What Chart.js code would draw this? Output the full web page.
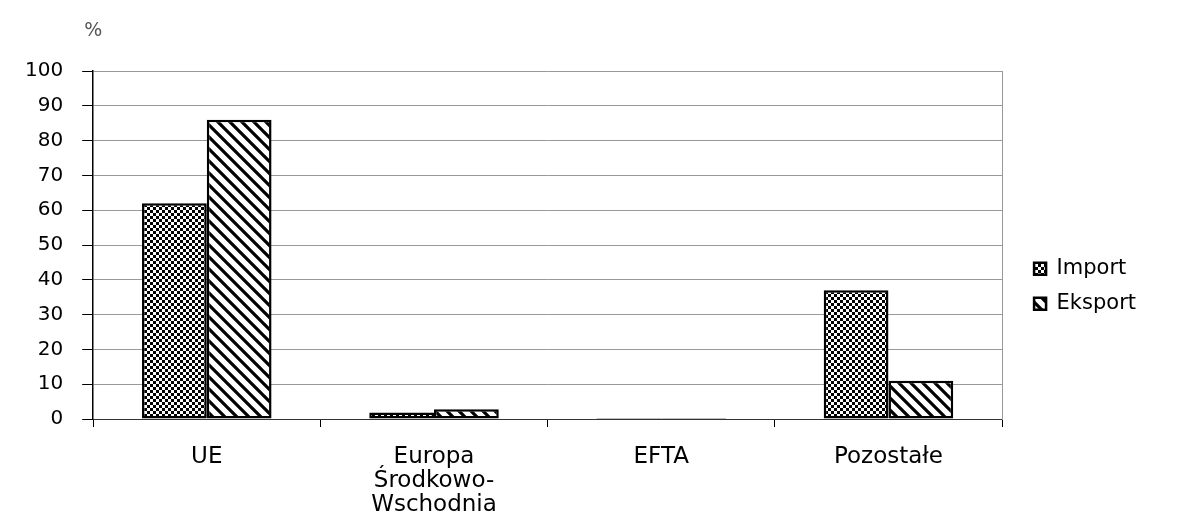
<!DOCTYPE html>
<html>
<head>
<meta charset="utf-8">
<script src="https://cdn.jsdelivr.net/npm/chart.js@4"></script>
<style>
  html, body { margin: 0; padding: 0; background: #fff; }
  #wrap { width: 1179px; height: 521px; position: relative; }
</style>
</head>
<body>
<div id="wrap"><canvas id="myChart"></canvas></div>
<script>
// datos
const categorias = ['UE', ['Europa', 'Środkowo-', 'Wschodnia'], 'EFTA', 'Pozostałe'];
const importe = [62, 1.9, 0.3, 37];
const eksport = [86, 2.8, 0.3, 11];
const ticksY = [0, 10, 20, 30, 40, 50, 60, 70, 80, 90, 100];

// patron de cuadritos (Import)
const patronCuadros = () => {
  const c = document.createElement('canvas');
  c.width = 6; c.height = 6;
  const ctx = c.getContext('2d');
  ctx.fillStyle = '#fff';
  ctx.fillRect(0, 0, 6, 6);
  ctx.fillStyle = '#000';
  ctx.fillRect(0, 0, 3, 3);
  ctx.fillRect(3, 3, 3, 3);
  return ctx.createPattern(c, 'repeat');
}

// patron de rayas diagonales (Eksport)
const patronRayas = () => {
  const s = 12;
  const c = document.createElement('canvas');
  c.width = s; c.height = s;
  const ctx = c.getContext('2d');
  ctx.fillStyle = '#fff';
  ctx.fillRect(0, 0, s, s);
  ctx.strokeStyle = '#000';
  ctx.lineWidth = 3.2;
  ctx.beginPath();
  ctx.moveTo(-s, 0); ctx.lineTo(s, 2 * s);
  ctx.moveTo(0, 0); ctx.lineTo(s, s);
  ctx.moveTo(0, -s); ctx.lineTo(2 * s, s);
  ctx.stroke();
  return ctx.createPattern(c, 'repeat');
}

// simbolo % arriba del eje
const extras = {
  id: 'extras',
  afterDraw(chart) {
    const ctx = chart.ctx;
    const a = chart.chartArea;
    ctx.save();
    ctx.fillStyle = '#555';
    ctx.font = '19px "DejaVu Sans", sans-serif';
    ctx.textAlign = 'center';
    ctx.textBaseline = 'middle';
    ctx.fillText('%', a.left, 31);
    ctx.restore();
  }
}

Chart.defaults.font.family = '"DejaVu Sans", sans-serif';
Chart.defaults.color = '#000';

new Chart(document.getElementById('myChart'), {
  type: 'bar',
  data: {
    labels: categorias,
    datasets: [{
      label: 'Import',
      data: importe,
      backgroundColor: patronCuadros(),
      borderColor: '#000',
      borderWidth: 2.5,
      borderSkipped: false
    }, {
      label: 'Eksport',
      data: eksport,
      backgroundColor: patronRayas(),
      borderColor: '#000',
      borderWidth: 2.5,
      borderSkipped: false
    }]
  },
  options: {
    responsive: true,
    maintainAspectRatio: false,
    animation: false,
    layout: { padding: { top: 71, right: 33, left: 6, bottom: 0 } },
    datasets: { bar: { categoryPercentage: 0.57, barPercentage: 1 } },
    plugins: {
      legend: {
        position: 'right',
        align: 'start',
        // titulo vacio solo para bajar la leyenda
        title: { display: true, text: ' ', font: { size: 1 }, padding: { top: 172, bottom: 0 } },
        labels: {
          font: { size: 21 },
          boxWidth: 12,
          boxHeight: 12,
          padding: 14
        }
      },
      tooltip: { enabled: false }
    },
    scales: {
      x: {
        grid: { offset: true, drawOnChartArea: false, tickLength: 8, color: '#000' },
        border: { color: '#333', width: 1 },
        ticks: { font: { size: 23, lineHeight: 1.05 }, padding: 18, maxRotation: 0 },
        afterFit: (scale) => { scale.height = 102; }
      },
      y: {
        min: 0,
        max: 100,
        afterBuildTicks: (scale) => { scale.ticks = ticksY.map(v => ({ value: v })); },
        grid: { color: '#999', tickColor: '#000', tickLength: 11 },
        border: { color: '#000', width: 1.5 },
        ticks: { font: { size: 20 }, padding: 19 }
      },
      // eje vacio a la derecha: hace de borde gris y separa la leyenda
      y2: {
        position: 'right',
        min: 0,
        max: 100,
        grid: { drawOnChartArea: false, drawTicks: false },
        border: { color: '#999', width: 1 },
        ticks: { display: false },
        afterFit: (scale) => { scale.width = 18; }
      }
    }
  },
  plugins: [extras]
});
</script>
</body>
</html>
